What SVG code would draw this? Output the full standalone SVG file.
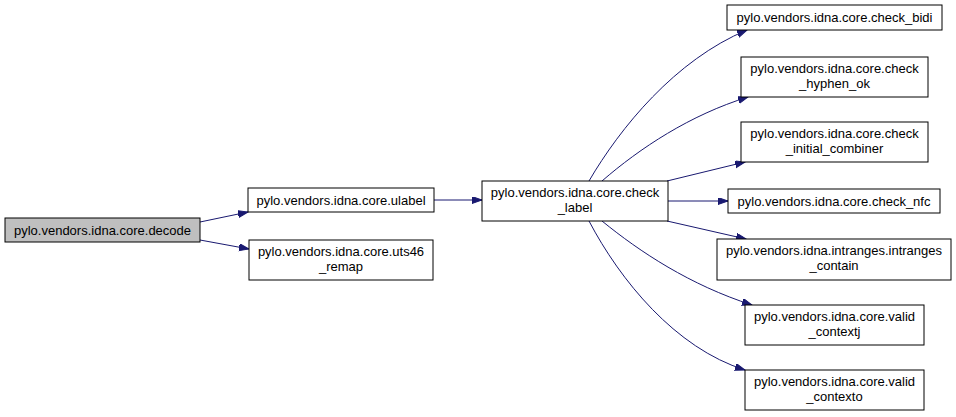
<svg xmlns="http://www.w3.org/2000/svg" width="956" height="417" viewBox="0 0 956 417">
<style>
.n rect{fill:#ffffff;stroke:#000000;stroke-width:1}
.n text{font-family:"Liberation Sans",Arial,sans-serif;font-size:13px;fill:#000000;text-anchor:middle}
#edges path{fill:none;stroke:#191970;stroke-width:1}
</style>
<defs>
<marker id="ah" markerUnits="userSpaceOnUse" markerWidth="11" markerHeight="8" refX="10" refY="3.5" orient="auto">
<path d="M0,0 L10,3.5 L0,7 z" fill="#191970" stroke="#191970" stroke-width="1"/>
</marker>
</defs>
<rect width="956" height="417" fill="#ffffff"/>
<g id="edges">
<path d="M200,222 L248,212" marker-end="url(#ah)"/>
<path d="M200,240 L249,249" marker-end="url(#ah)"/>
<path d="M434,200 L482,200" marker-end="url(#ah)"/>
<path d="M589,181 C620,128 675,60 747,30" marker-end="url(#ah)"/>
<path d="M602,181 C640,148 690,115 748,97" marker-end="url(#ah)"/>
<path d="M667,181 L745,162" marker-end="url(#ah)"/>
<path d="M668,201 L728,201" marker-end="url(#ah)"/>
<path d="M667,221 L746,239" marker-end="url(#ah)"/>
<path d="M602,221 C640,252 690,285 752,305" marker-end="url(#ah)"/>
<path d="M589,221 C620,280 675,348 745,370" marker-end="url(#ah)"/>
</g>
<g id="decode" class="n"><rect x="5" y="218" width="195" height="24" style="fill:#bfbfbf"/><text x="102.5" y="234.5">pylo.vendors.idna.core.decode</text></g>
<g id="ulabel" class="n"><rect x="248" y="188" width="186" height="24"/><text x="341" y="204.5">pylo.vendors.idna.core.ulabel</text></g>
<g id="uts46_remap" class="n"><rect x="249" y="240" width="184" height="40"/><text x="341" y="256">pylo.vendors.idna.core.uts46</text><text x="341" y="271">_remap</text></g>
<g id="check_label" class="n"><rect x="482" y="181" width="186" height="40"/><text x="575" y="197">pylo.vendors.idna.core.check</text><text x="575" y="212">_label</text></g>
<g id="check_bidi" class="n"><rect x="727" y="5" width="215" height="25"/><text x="834.5" y="21.5">pylo.vendors.idna.core.check_bidi</text></g>
<g id="check_hyphen_ok" class="n"><rect x="741" y="57" width="187" height="40"/><text x="834.5" y="73">pylo.vendors.idna.core.check</text><text x="834.5" y="88">_hyphen_ok</text></g>
<g id="check_initial_combiner" class="n"><rect x="741" y="122" width="187" height="40"/><text x="834.5" y="138">pylo.vendors.idna.core.check</text><text x="834.5" y="153">_initial_combiner</text></g>
<g id="check_nfc" class="n"><rect x="728" y="189" width="212" height="24"/><text x="834" y="205.5">pylo.vendors.idna.core.check_nfc</text></g>
<g id="intranges_contain" class="n"><rect x="717" y="239" width="234" height="41"/><text x="834" y="255">pylo.vendors.idna.intranges.intranges</text><text x="834" y="270">_contain</text></g>
<g id="valid_contextj" class="n"><rect x="745" y="305" width="179" height="40"/><text x="834.5" y="321">pylo.vendors.idna.core.valid</text><text x="834.5" y="336">_contextj</text></g>
<g id="valid_contexto" class="n"><rect x="745" y="370" width="179" height="40"/><text x="834.5" y="386">pylo.vendors.idna.core.valid</text><text x="834.5" y="401">_contexto</text></g>
</svg>
